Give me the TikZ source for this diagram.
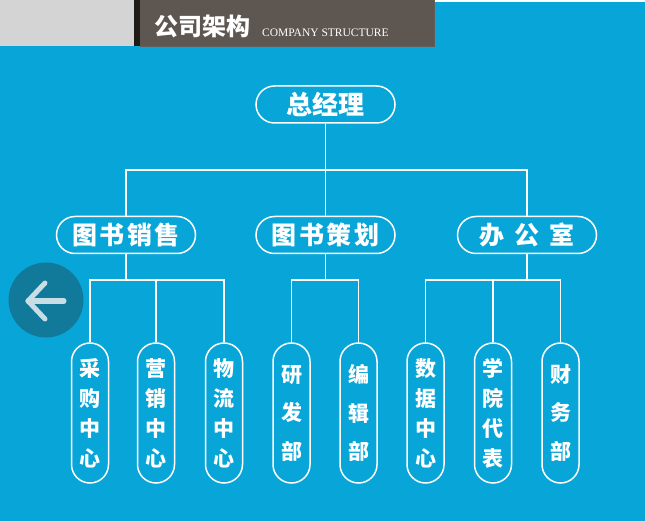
\documentclass[tikz,border=0pt]{standalone}
\usepackage{fontspec}
\newfontfamily\cjk{Noto Sans CJK SC}
\setmainfont{Liberation Serif}
\definecolor{bgblue}{RGB}{8,165,216}
\definecolor{hdgray}{RGB}{212,212,212}
\definecolor{hdbrown}{RGB}{94,86,81}
\definecolor{hdblack}{RGB}{30,26,23}
\definecolor{btnteal}{RGB}{18,118,148}
\definecolor{arrowgray}{RGB}{200,222,230}
\tikzset{
  hpill/.style={draw=white, line width=1.5pt, fill=bgblue, rounded corners=18.5pt,
    minimum width=139pt, minimum height=37pt, inner sep=0pt, text=white,
    font=\cjk\bfseries\fontsize{25}{25}\selectfont},
  vpill/.style={draw=white, line width=1.5pt, fill=bgblue, rounded corners=18.5pt,
    minimum width=37pt, minimum height=140pt, inner sep=0pt, text=white, align=center},
  four/.style={vpill, font=\cjk\bfseries\fontsize{21}{30}\selectfont},
  three/.style={vpill, font=\cjk\bfseries\fontsize{21}{38.5}\selectfont},
  link/.style={draw=white, line width=1.2pt}
}
\begin{document}
\begin{tikzpicture}[x=1pt,y=-1pt]
\useasboundingbox (0,0) rectangle (645,521);
\fill[bgblue] (0,0) rectangle (645,521);
\fill[white] (434,0) rectangle (645,2);
% header
\fill[hdgray] (0,0) rectangle (134,46);
\fill[hdblack] (134,0) rectangle (140,46);
\fill[hdbrown] (140,0) rectangle (434,46);
\draw[hdblack!70, line width=0.8pt] (434,0) -- (434,46) -- (140,46);
\node[anchor=west, text=white, inner sep=0pt, font=\cjk\bfseries\fontsize{24}{24}\selectfont] (title) at (154,26) {公司架构};
\node[anchor=base west, text=white, inner sep=0pt, font=\fontsize{11.5}{11.5}\selectfont] (subtitle) at (262,36.5) {COMPANY STRUCTURE};
% back button
\fill[btnteal, opacity=0.9] (46,300) circle (37.5);
\draw[arrowgray, line width=5pt, line cap=round, line join=round] (64,301) -- (28,301);
\draw[arrowgray, line width=5pt, line cap=round, line join=round] (45,283) -- (28,301) -- (45,319);
% nodes
\node[hpill, font=\cjk\bfseries\fontsize{26}{26}\selectfont] (gm) at (325.5,104.5) {总经理};
\node[hpill] (sales) at (126,235) {图\hspace{2.5pt}书\hspace{2.5pt}销\hspace{2.5pt}售};
\node[hpill] (plan) at (325.5,235) {图\hspace{2.5pt}书\hspace{2.5pt}策\hspace{2.5pt}划};
\node[hpill] (office) at (527,235) {办\hspace{10pt}公\hspace{10pt}室};
\node[four] (c1) at (90,413) {采\\购\\中\\心};
\node[four] (c2) at (156,413) {营\\销\\中\\心};
\node[four] (c3) at (224,413) {物\\流\\中\\心};
\node[three] (c4) at (291.5,413) {研\\发\\部};
\node[three] (c5) at (358.5,413) {编\\辑\\部};
\node[four] (c6) at (425.5,413) {数\\据\\中\\心};
\node[four] (c7) at (493,413) {学\\院\\代\\表};
\node[three] (c8) at (560.5,413) {财\\务\\部};
% junctions
\coordinate (j0) at (325.5,170);
\coordinate (j1) at (126,280);
\coordinate (j2) at (325.5,280);
\coordinate (j3) at (527,280);
% connectors
\draw[link] (gm.south) -- (plan.north);
\draw[link] (sales.north) |- (j0) -| (office.north);
\draw[link] (sales.south) -- (j1);
\draw[link] (c1.north) |- (j1) -| (c3.north);
\draw[link] (c2.north |- j1) -- (c2.north);
\draw[link] (plan.south) -- (j2);
\draw[link] (c4.north) |- (j2) -| (c5.north);
\draw[link] (office.south) -- (j3);
\draw[link] (c6.north) |- (j3) -| (c8.north);
\draw[link] (c7.north |- j3) -- (c7.north);
\end{tikzpicture}
\end{document}
